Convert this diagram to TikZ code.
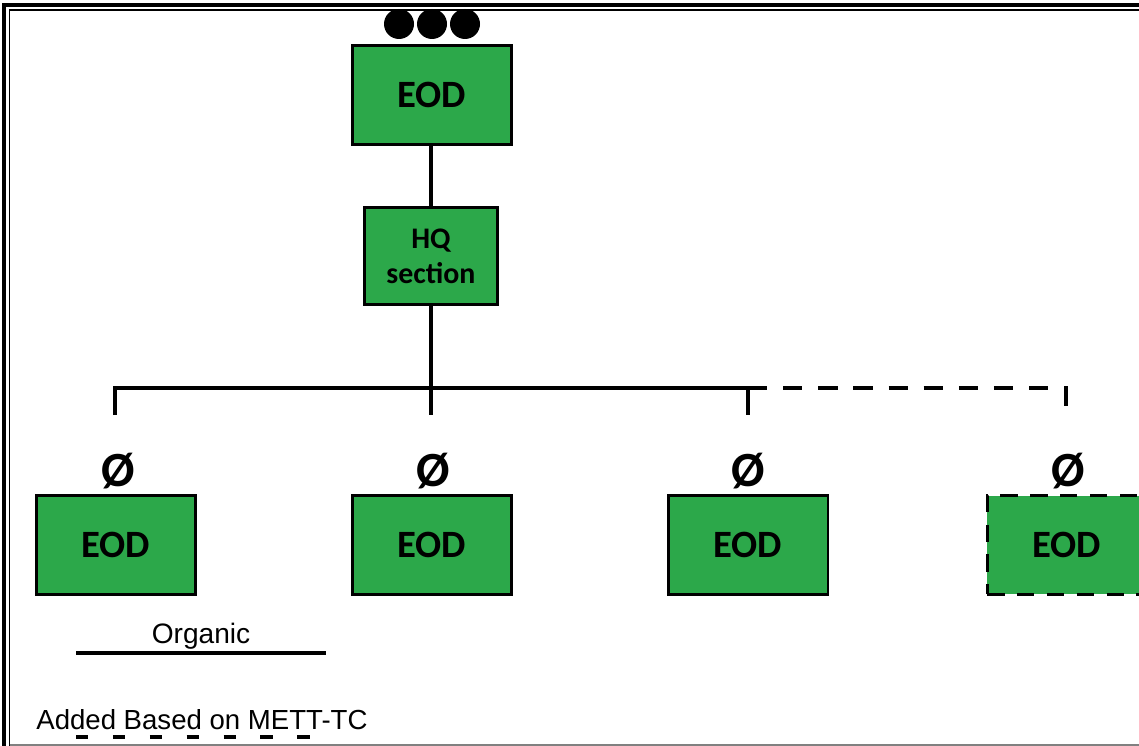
\documentclass[tikz,border=0pt]{standalone}
\usepackage{fontspec}
\setmainfont{Liberation Sans}
\newfontfamily\boxfont{Carlito}
\usetikzlibrary{positioning}

\definecolor{eodgreen}{RGB}{44,168,74}

\tikzset{
  unit/.style={draw=black,line width=1.7pt,fill=eodgreen,minimum width=3.2cm,minimum height=1.98cm,
               font=\boxfont\bfseries\fontsize{22}{24}\selectfont,align=center,inner sep=2pt},
  hqunit/.style={unit,minimum width=2.66cm,minimum height=1.96cm,font=\boxfont\bfseries\fontsize{17}{20}\selectfont},
  addedunit/.style={unit,dash pattern=on 10pt off 7pt},
  link/.style={black,line width=2.2pt},
  addedlink/.style={link,dash pattern=on 11pt off 9pt},
  nullmark/.style={font=\boxfont\bfseries\fontsize{28}{28}\selectfont,inner sep=0pt},
}

\begin{document}
\begin{tikzpicture}[x=0.02cm,y=-0.02cm]

\useasboundingbox (0,0) rectangle (1139,746);
\clip (0,0) rectangle (1139,746);

%draw page frame
\draw[line width=1.8pt] (4,746) -- (4,5) -- (1139,5);
\draw[line width=0.7pt] (9.5,746) -- (9.5,10) -- (1139,10);
\draw[gray,line width=0.8pt] (9.5,745) -- (1139,745);

%draw company and hq
\node[unit] (eod) at (432,95) {EOD};
\node[hqunit] (hq) at (431,256) {HQ\\section};

%size dots
\foreach \x in {399,432,465}
    {
    \fill (\x,24) circle (15);
    }

%draw platoons
\node[unit] (p1) at (116,545) {EOD};
\node[unit] (p2) at (432,545) {EOD};
\node[unit] (p3) at (748,545) {EOD};
\node[addedunit] (p4) at (1067,545) {EOD};

%size marks
\foreach \n/\x in {1/118,2/433,3/748,4/1068}
    {
    \node[nullmark] (m\n) at (\x,471) {Ø};
    }

%draw bus
\coordinate (bus) at (431,388);
\coordinate (t1) at (115,415);
\coordinate (t2) at (431,415);
\coordinate (t3) at (748,415);
\coordinate (t4) at (1066,415);

\draw[link] (hq.north |- eod.south) -- (hq.north);
\draw[link] (hq.south) -- (t2);
\draw[link] (t1) |- (bus) -- (t3 |- bus) -- (t3);
\draw[addedlink] (t3 |- bus) -| (t4);

%draw legend
\node[font=\fontsize{16}{18}\selectfont] (organic) at (201,636) {Organic};
\node[font=\fontsize{15.7}{18}\selectfont,anchor=west,inner sep=0pt] (added) at (36,720) {Added Based on METT-TC};
\coordinate (o1) at (76,653);
\coordinate (o2) at (326,653);
\coordinate (a1) at (76,737);
\coordinate (a2) at (318,737);
\draw[link] (o1) -- (o2);
\draw[link,line width=2.4pt,dash pattern=on 7pt off 14pt] (a1) -- (a2);

\end{tikzpicture}
\end{document}
